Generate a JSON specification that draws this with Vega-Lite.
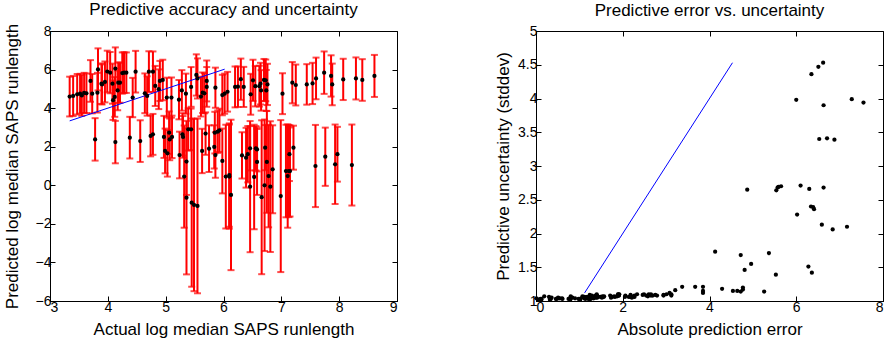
{
"$schema": "https://vega.github.io/schema/vega-lite/v6.json",
"autosize": {"type": "pad"},
"padding": {"left": 2, "top": 0, "right": 0, "bottom": 0},
"background": "white",
"bounds": "flush",
"spacing": 139,
"datasets": {
"pts": [
{"a":3.34,"p":4.60,"s":1.03,"e":1.26},{"a":3.40,"p":4.63,"s":1.04,"e":1.23},{"a":3.47,"p":4.72,"s":1.05,"e":1.25},{"a":3.52,"p":4.75,"s":1.03,"e":1.23},{"a":3.55,"p":4.66,"s":1.06,"e":1.11},{"a":3.59,"p":4.79,"s":1.04,"e":1.20},{"a":3.63,"p":4.77,"s":1.03,"e":1.14},{"a":3.70,"p":5.41,"s":1.08,"e":1.71},{"a":3.73,"p":4.75,"s":1.02,"e":1.02},{"a":3.82,"p":4.80,"s":1.03,"e":0.98},
{"a":3.83,"p":6.01,"s":1.09,"e":2.18},{"a":3.89,"p":5.27,"s":1.05,"e":1.38},{"a":3.90,"p":5.23,"s":1.04,"e":1.33},{"a":3.95,"p":5.36,"s":1.06,"e":1.41},{"a":3.99,"p":5.90,"s":1.08,"e":1.91},{"a":4.04,"p":5.84,"s":1.07,"e":1.80},{"a":4.08,"p":5.27,"s":1.04,"e":1.19},{"a":4.09,"p":4.41,"s":1.02,"e":0.32},{"a":4.12,"p":4.58,"s":1.03,"e":0.46},{"a":4.13,"p":6.05,"s":1.10,"e":1.92},
{"a":4.17,"p":4.92,"s":1.03,"e":0.75},{"a":4.18,"p":5.32,"s":1.05,"e":1.14},{"a":4.21,"p":5.32,"s":1.04,"e":1.11},{"a":4.25,"p":5.82,"s":1.07,"e":1.57},{"a":4.28,"p":5.84,"s":1.06,"e":1.56},{"a":4.32,"p":5.84,"s":1.05,"e":1.52},{"a":4.43,"p":4.55,"s":1.02,"e":0.12},{"a":4.48,"p":5.89,"s":1.08,"e":1.41},{"a":4.64,"p":4.77,"s":1.03,"e":0.13},{"a":4.68,"p":4.63,"s":1.02,"e":0.05},
{"a":4.71,"p":5.89,"s":1.06,"e":1.18},{"a":4.78,"p":5.89,"s":1.05,"e":1.11},{"a":4.82,"p":5.15,"s":1.04,"e":0.33},{"a":4.88,"p":4.98,"s":1.03,"e":0.10},{"a":4.90,"p":5.41,"s":1.04,"e":0.51},{"a":4.95,"p":5.46,"s":1.05,"e":0.51},{"a":5.02,"p":4.55,"s":1.03,"e":0.47},{"a":5.10,"p":4.55,"s":1.04,"e":0.55},{"a":5.23,"p":4.44,"s":1.02,"e":0.79},{"a":5.28,"p":4.92,"s":1.05,"e":0.36},
{"a":5.35,"p":4.75,"s":1.04,"e":0.60},{"a":5.44,"p":5.10,"s":1.03,"e":0.34},{"a":5.53,"p":5.72,"s":1.07,"e":0.19},{"a":5.55,"p":5.54,"s":1.04,"e":0.01},{"a":5.61,"p":4.60,"s":1.03,"e":1.01},{"a":5.64,"p":4.80,"s":1.05,"e":0.84},{"a":5.67,"p":4.77,"s":1.04,"e":0.90},{"a":5.71,"p":5.41,"s":1.06,"e":0.30},{"a":5.71,"p":5.10,"s":1.03,"e":0.61},{"a":5.86,"p":5.06,"s":1.04,"e":0.80},
{"a":5.98,"p":4.68,"s":1.05,"e":1.30},{"a":6.02,"p":4.75,"s":1.04,"e":1.27},{"a":6.07,"p":4.85,"s":1.03,"e":1.22},{"a":6.20,"p":5.10,"s":1.06,"e":1.10},{"a":6.25,"p":5.11,"s":1.05,"e":1.14},{"a":6.30,"p":5.50,"s":1.07,"e":0.80},{"a":6.35,"p":5.10,"s":1.04,"e":1.25},{"a":6.47,"p":4.72,"s":1.06,"e":1.75},{"a":6.51,"p":5.44,"s":1.07,"e":1.07},{"a":6.55,"p":5.14,"s":1.05,"e":1.41},
{"a":6.62,"p":5.14,"s":1.06,"e":1.48},{"a":6.64,"p":5.27,"s":1.08,"e":1.37},{"a":6.65,"p":4.92,"s":1.05,"e":1.73},{"a":6.70,"p":5.46,"s":1.09,"e":1.24},{"a":6.73,"p":5.44,"s":1.08,"e":1.29},{"a":6.74,"p":4.92,"s":1.06,"e":1.82},{"a":6.76,"p":5.23,"s":1.07,"e":1.53},{"a":7.02,"p":4.75,"s":1.06,"e":2.27},{"a":7.19,"p":5.32,"s":1.07,"e":1.87},{"a":7.25,"p":5.20,"s":1.06,"e":2.05},
{"a":7.44,"p":5.23,"s":1.05,"e":2.21},{"a":7.54,"p":5.28,"s":1.07,"e":2.26},{"a":7.60,"p":5.54,"s":1.08,"e":2.06},{"a":7.74,"p":5.84,"s":1.10,"e":1.90},{"a":7.86,"p":5.67,"s":1.07,"e":2.19},{"a":7.88,"p":5.23,"s":1.08,"e":2.65},{"a":8.07,"p":5.49,"s":1.07,"e":2.58},{"a":8.29,"p":5.54,"s":1.09,"e":2.75},{"a":8.40,"p":5.46,"s":1.08,"e":2.94},{"a":8.61,"p":5.67,"s":1.09,"e":2.94},
{"a":3.78,"p":2.38,"s":1.10,"e":1.40},{"a":4.13,"p":2.24,"s":1.10,"e":1.89},{"a":4.38,"p":2.47,"s":1.08,"e":1.91},{"a":4.56,"p":2.29,"s":1.08,"e":2.27},{"a":4.74,"p":2.56,"s":1.06,"e":2.18},{"a":4.78,"p":2.64,"s":1.06,"e":2.14},{"a":4.97,"p":2.51,"s":1.09,"e":2.46},{"a":4.99,"p":1.78,"s":1.16,"e":3.21},{"a":5.03,"p":1.66,"s":1.21,"e":3.37},{"a":5.06,"p":2.73,"s":1.10,"e":2.33},
{"a":5.07,"p":2.38,"s":1.08,"e":2.69},{"a":5.11,"p":2.51,"s":1.10,"e":2.60},{"a":5.24,"p":1.57,"s":1.21,"e":3.67},{"a":5.29,"p":2.64,"s":1.10,"e":2.65},{"a":5.30,"p":2.51,"s":1.08,"e":2.79},{"a":5.32,"p":0.45,"s":2.65,"e":4.87},{"a":5.36,"p":1.23,"s":1.73,"e":4.13},{"a":5.36,"p":-0.64,"s":3.98,"e":6.00},{"a":5.39,"p":2.90,"s":1.10,"e":2.49},{"a":5.44,"p":2.90,"s":1.08,"e":2.54},
{"a":5.45,"p":-0.90,"s":4.36,"e":6.35},{"a":5.49,"p":-1.02,"s":4.47,"e":6.51},{"a":5.55,"p":-1.07,"s":4.53,"e":6.62},{"a":5.63,"p":1.78,"s":1.15,"e":3.85},{"a":5.69,"p":2.68,"s":1.10,"e":3.01},{"a":5.75,"p":1.90,"s":1.21,"e":3.85},{"a":5.84,"p":1.99,"s":1.12,"e":3.85},{"a":5.86,"p":1.57,"s":1.18,"e":4.29},{"a":5.85,"p":2.73,"s":1.08,"e":3.12},{"a":5.90,"p":2.78,"s":1.10,"e":3.12},
{"a":5.93,"p":2.85,"s":1.12,"e":3.08},{"a":5.98,"p":1.26,"s":1.68,"e":4.72},{"a":6.04,"p":0.45,"s":2.69,"e":5.59},{"a":6.10,"p":0.45,"s":2.70,"e":5.65},{"a":6.10,"p":0.53,"s":2.68,"e":5.57},{"a":6.13,"p":-0.50,"s":3.90,"e":6.63},{"a":6.32,"p":1.55,"s":1.20,"e":4.77},{"a":6.39,"p":1.43,"s":1.55,"e":4.96},{"a":6.42,"p":1.61,"s":1.46,"e":4.81},{"a":6.46,"p":1.92,"s":1.15,"e":4.54},
{"a":6.46,"p":-0.07,"s":3.40,"e":6.53},{"a":6.53,"p":0.43,"s":2.71,"e":6.10},{"a":6.56,"p":1.92,"s":1.15,"e":4.64},{"a":6.58,"p":1.21,"s":1.71,"e":5.37},{"a":6.58,"p":1.86,"s":1.14,"e":4.72},{"a":6.66,"p":-0.62,"s":3.99,"e":7.28},{"a":6.71,"p":0.00,"s":3.41,"e":6.71},{"a":6.72,"p":1.95,"s":1.17,"e":4.77},{"a":6.75,"p":1.21,"s":2.64,"e":5.54},{"a":6.78,"p":0.48,"s":2.66,"e":6.30},
{"a":6.81,"p":-0.07,"s":3.39,"e":6.88},{"a":6.85,"p":0.83,"s":2.28,"e":6.02},{"a":6.99,"p":-0.56,"s":3.94,"e":7.55},{"a":7.08,"p":0.74,"s":2.40,"e":6.34},{"a":7.11,"p":0.48,"s":2.68,"e":6.63},{"a":7.13,"p":0.74,"s":2.39,"e":6.39},{"a":7.14,"p":1.61,"s":1.39,"e":5.53},{"a":7.15,"p":0.74,"s":2.36,"e":6.41},{"a":7.21,"p":1.95,"s":1.14,"e":5.26},{"a":7.59,"p":1.00,"s":2.13,"e":6.59},
{"a":7.76,"p":1.48,"s":1.51,"e":6.28},{"a":7.93,"p":1.09,"s":2.06,"e":6.84},{"a":7.97,"p":1.61,"s":1.42,"e":6.36},{"a":8.22,"p":1.05,"s":2.10,"e":7.17}
],
"l1": [{"a":3.34,"p":3.34},{"a":6.02,"p":6.02}],
"l2": [{"e":1.12,"s":1.12},{"e":4.53,"s":4.53}]
},
"hconcat": [
{
"width": 347, "height": 270,
"title": {"text": "Predictive accuracy and uncertainty", "offset": 4},
"layer": [
{"data": {"name": "pts"},
 "mark": {"type": "errorbar", "ticks": true, "color": "#ff0000", "thickness": 2, "size": 7},
 "encoding": {
  "x": {"field": "a", "type": "quantitative", "scale": {"domain": [3, 9]}, "axis": {"orient": "bottom", "values": [3,4,5,6,7,8,9], "title": "Actual log median SAPS runlength", "titlePadding": 7}},
  "y": {"field": "p", "type": "quantitative", "scale": {"domain": [-6, 8]}, "axis": {"orient": "left", "values": [-6,-4,-2,0,2,4,6,8], "title": "Predicted log median SAPS runlength", "titlePadding": 14}},
  "yError": {"field": "s"}
 }},
{"data": {"name": "l1"},
 "mark": {"type": "line", "color": "#0000ff", "strokeWidth": 1},
 "encoding": {"x": {"field": "a", "type": "quantitative", "axis": null}, "y": {"field": "p", "type": "quantitative", "axis": null}}},
{"data": {"name": "pts"},
 "mark": {"type": "circle", "color": "black", "opacity": 1, "size": 18},
 "encoding": {
  "x": {"field": "a", "type": "quantitative", "axis": {"orient": "top", "values": [3,4,5,6,7,8,9], "labels": false, "title": null, "domain": false}},
  "y": {"field": "p", "type": "quantitative", "axis": {"orient": "right", "values": [-6,-4,-2,0,2,4,6,8], "labels": false, "title": null, "domain": false}}
 }}
],
"resolve": {"axis": {"x": "independent", "y": "independent"}}
},
{
"width": 347, "height": 270,
"title": {"text": "Predictive error vs. uncertainty", "offset": 4},
"layer": [
{"data": {"name": "l2"},
 "mark": {"type": "line", "color": "#0000ff", "strokeWidth": 1},
 "encoding": {
  "x": {"field": "e", "type": "quantitative", "scale": {"domain": [0, 8]}, "axis": {"orient": "bottom", "values": [0,2,4,6,8], "title": "Absolute prediction error", "titlePadding": 7}},
  "y": {"field": "s", "type": "quantitative", "scale": {"domain": [1, 5]}, "axis": {"orient": "left", "values": [1,1.5,2,2.5,3,3.5,4,4.5,5], "format": "~g", "title": "Predictive uncertainty (stddev)", "titlePadding": 5}}
 }},
{"data": {"name": "pts"},
 "mark": {"type": "circle", "color": "black", "opacity": 1, "size": 18},
 "encoding": {
  "x": {"field": "e", "type": "quantitative", "axis": {"orient": "top", "values": [0,2,4,6,8], "labels": false, "title": null, "domain": false}},
  "y": {"field": "s", "type": "quantitative", "axis": {"orient": "right", "values": [1,1.5,2,2.5,3,3.5,4,4.5,5], "labels": false, "title": null, "domain": false}}
 }}
],
"resolve": {"axis": {"x": "independent", "y": "independent"}}
}
],
"config": {
 "font": "Liberation Sans",
 "view": {"stroke": "black", "strokeWidth": 1},
 "axis": {"grid": false, "labelFont": "Liberation Sans", "labelFontSize": 14, "labelColor": "black", "titleFont": "Liberation Sans", "titleFontSize": 17, "titleFontWeight": "normal", "titleColor": "black", "tickColor": "black", "tickSize": -5, "domainColor": "black", "labelPadding": 4},
 "title": {"font": "Liberation Sans", "fontSize": 17, "fontWeight": "normal", "color": "black", "baseline": "alphabetic"}
}
}
